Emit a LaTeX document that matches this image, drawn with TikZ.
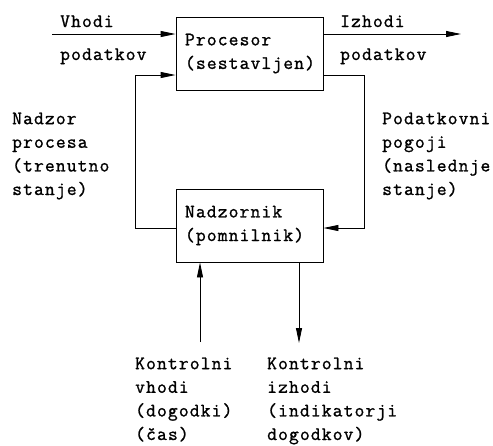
\documentclass[tikz,border=0pt]{standalone}
\usepackage{fontspec}
\newfontfamily\lblfont{Latin Modern Mono}[LetterSpace=6,FakeBold=1.2]
\usetikzlibrary{arrows.meta}
\begin{document}
\begin{tikzpicture}[x=1pt,y=-1pt,
  txt/.style={font=\lblfont\fontsize{19}{23.6}\selectfont,
    inner sep=0pt, align=left, anchor=base west},
  blok/.style={draw, line width=0.9pt, minimum width=147pt, minimum height=73pt,
    inner sep=0pt, text width=129pt, align=left,
    font=\lblfont\fontsize{19}{23.6}\selectfont},
  wire/.style={line width=0.9pt},
  arr/.style={wire, -{Triangle[length=15pt,width=6pt]}}]
\useasboundingbox (0,0) rectangle (493,445);

% the two blocks
\node[blok] (proc) at (249.5,53.5) {Procesor\\(sestavljen)};
\node[blok] (nadz) at (249.5,225.5) {Nadzornik\\(pomnilnik)};

% free ends and bends of the connectors
\coordinate (vin)  at (52,34);
\coordinate (vout) at (461,34);
\coordinate (ly)   at (0,75);
\coordinate (lx)   at (135,228);
\coordinate (rx)   at (364,228);
\coordinate (cin)  at (200,342);
\coordinate (cout) at (299,343);

% data inputs and outputs
\draw[arr] (vin) -- (proc.west |- vin);
\draw[arr] (proc.east |- vout) -- (vout);

% feedback loop between processor and supervisor
\draw[arr] (nadz.west |- lx) -- (lx) |- (proc.west |- ly);
\draw[arr] (proc.east |- ly) -| (rx) -- (nadz.east |- rx);

% control inputs and outputs
\draw[arr] (cin) -- (nadz.south -| cin);
\draw[arr] (nadz.south -| cout) -- (cout);

% labels (multi-line labels are anchored on their last baseline)
\node[txt] (l1) at (60,27) {Vhodi};
\node[txt] (l2) at (60,60) {podatkov};
\node[txt] (l3) at (340,27) {Izhodi};
\node[txt] (l4) at (340,60) {podatkov};
\node[txt] (l5) at (12,195) {Nadzor\\procesa\\(trenutno\\stanje)};
\node[txt] (l6) at (382,195) {Podatkovni\\pogoji\\(naslednje\\stanje)};
\node[txt] (l7) at (135,440) {Kontrolni\\vhodi\\(dogodki)\\(čas)};
\node[txt] (l8) at (267,440) {Kontrolni\\izhodi\\(indikatorji\\dogodkov)};
\end{tikzpicture}
\end{document}
